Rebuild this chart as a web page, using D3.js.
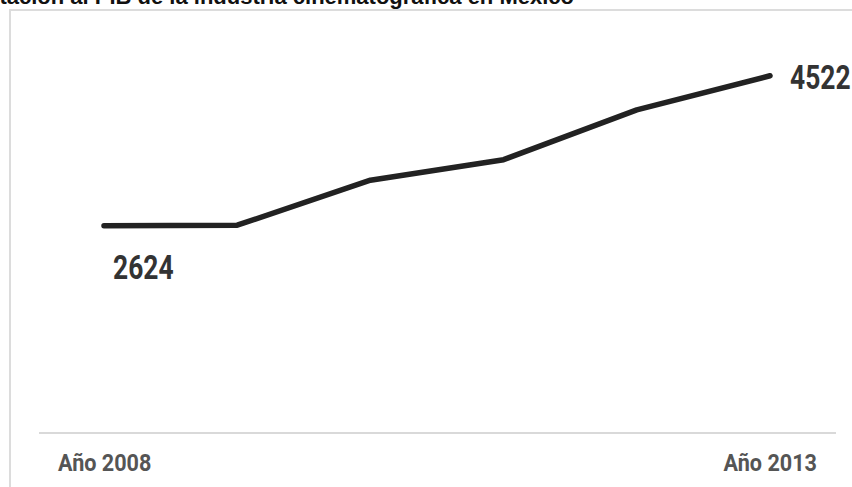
<!DOCTYPE html>
<html>
<head>
<meta charset="utf-8">
<script src="https://cdn.jsdelivr.net/npm/d3@7"></script>
<style>
  html, body { margin: 0; padding: 0; background: #fff; overflow: hidden; }
  svg { display: block; }
</style>
</head>
<body>
<svg id="chart" width="852" height="487"></svg>
<script>
// Aportación al PIB de la industria cinematográfica en México, 2008–2013
const years = [2008, 2009, 2010, 2011, 2012, 2013];
const values = [2624, 2630, 3200, 3460, 4090, 4522];
const axisLabels = ["Año 2008", "Año 2013"];
const title = "Aportación al PIB de la industria cinematográfica en México";

const svg = d3.select("#chart");
const W = 852, H = 487;

// panel frame (top and left edges)
svg.append("path")
  .attr("d", `M10,${H} L10,10 L${W},10`)
  .attr("fill", "none")
  .attr("stroke", "#dcdcdc")
  .attr("stroke-width", 2);

// title, running past the left edge of the page
svg.append("text")
  .attr("x", 574).attr("y", 4)
  .attr("text-anchor", "end")
  .attr("font-family", "Liberation Sans, Arial, sans-serif")
  .attr("font-weight", "bold")
  .attr("font-size", 22)
  .attr("fill", "#111")
  .text(title);

const x = d3.scalePoint().domain(years).range([104, 770]);
const y = d3.scaleLinear().domain([0, 5000]).range([433, 38]);

// baseline
svg.append("line")
  .attr("x1", 39).attr("x2", 836)
  .attr("y1", y(0)).attr("y2", y(0))
  .attr("stroke", "#d9d9d9")
  .attr("stroke-width", 2);

// condensed bold text helper
function condText(px, py, str, size, color, anchor, sx) {
  const g = svg.append("g").attr("transform", `translate(${px},${py}) scale(${sx || 0.8},1)`);
  g.append("text")
    .attr("text-anchor", anchor || "start")
    .attr("font-family", "Roboto, 'Liberation Sans', sans-serif")
    .attr("font-weight", "bold")
    .attr("font-size", size)
    .attr("fill", color)
    .text(str);
}

const line = d3.line()
  .x((d, i) => x(years[i]))
  .y(d => y(d));

svg.append("path")
  .datum(values)
  .attr("d", line)
  .attr("fill", "none")
  .attr("stroke", "#222")
  .attr("stroke-width", 5.5)
  .attr("stroke-linecap", "round")
  .attr("stroke-linejoin", "round");

// endpoint labels
const first = values[0], last = values[values.length - 1];
condText(x(years[0]) + 9, y(first) + 53, d3.format("d")(first), 33, "#333");
condText(x(years[years.length - 1]) + 20, y(last) + 13, d3.format("d")(last), 33, "#333");

// year labels
condText(58, 471, axisLabels[0], 24, "#555", "start", 0.9);
condText(817, 471, axisLabels[1], 24, "#555", "end", 0.9);
</script>
</body>
</html>
